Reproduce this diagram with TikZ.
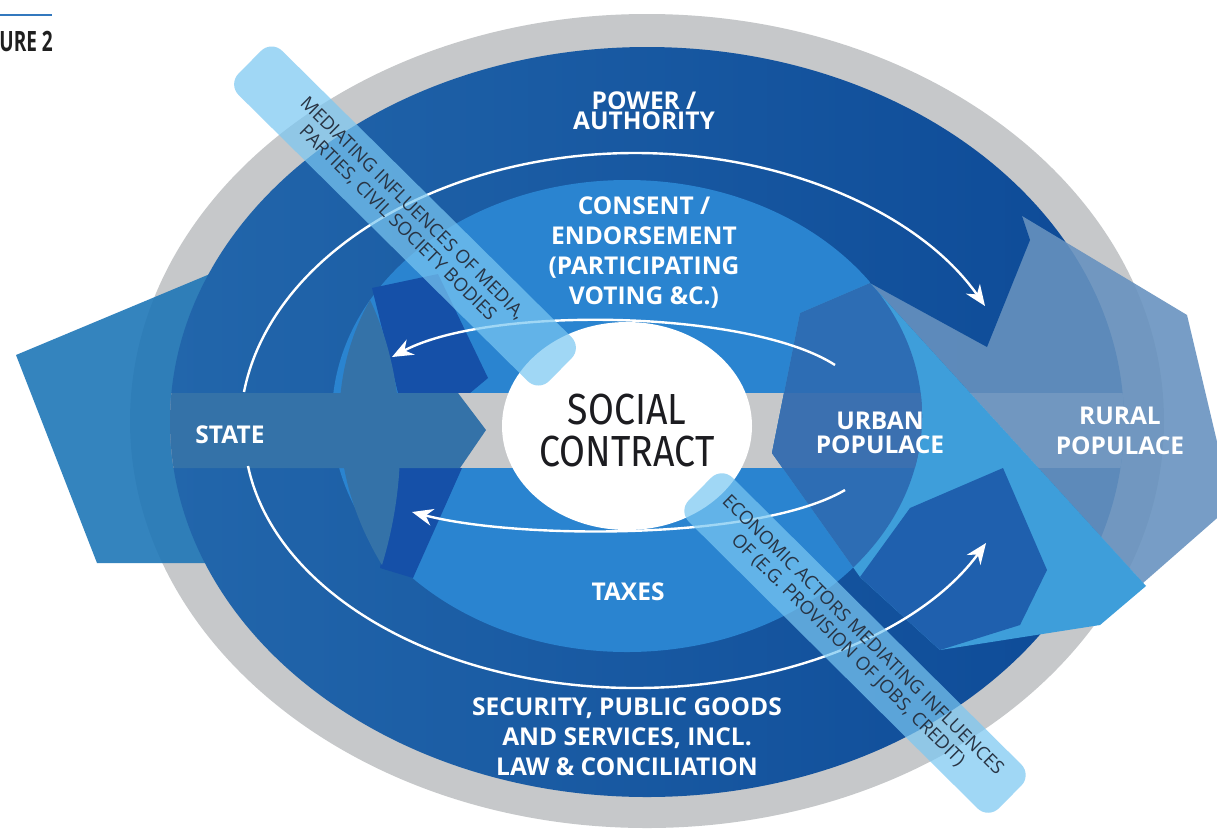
\documentclass[tikz,border=0pt]{standalone}
\usepackage{fontspec}
\setmainfont{Open Sans}
\newfontfamily\contractfont{Fira Sans}
\usetikzlibrary{arrows.meta}
\definecolor{ringgray}{RGB}{198,200,202}
\definecolor{darkL}{RGB}{34,102,171}
\definecolor{darkR}{RGB}{13,74,151}
\definecolor{midblue}{RGB}{42,132,208}
\definecolor{statehex}{RGB}{31,119,183}
\definecolor{stateband}{RGB}{52,114,168}
\definecolor{chevron}{RGB}{21,80,168}
\definecolor{ruralc}{RGB}{103,146,191}
\definecolor{cyanc}{RGB}{62,158,218}
\definecolor{urbanc}{RGB}{45,109,180}
\definecolor{urbanband}{RGB}{59,112,176}
\definecolor{lowhex}{RGB}{31,96,174}
\definecolor{bandc}{RGB}{122,199,242}
\definecolor{bandtext}{RGB}{40,52,68}
\definecolor{figblue}{RGB}{50,120,190}
\definecolor{contracttext}{RGB}{28,28,32}
\begin{document}
\begin{tikzpicture}[x=1pt,y=-1pt,
  lbl/.style={text=white, font=\bfseries\fontsize{24.5}{30}\selectfont, align=center, inner sep=0pt},
  flow/.style={draw=white, line width=2.4pt, -{Stealth[length=21pt,width=17pt]}},
  medband/.style={fill=bandc, fill opacity=0.71, text opacity=1, text=bandtext, rounded corners=15pt, align=center, font=\fontsize{18.5}{21}\selectfont, inner sep=0pt, minimum width=437pt, minimum height=62pt}
]
\fill[white] (0,0) rectangle (1217,831);
\useasboundingbox (0,0) rectangle (1217,831);

% figure tag
\coordinate (tagA) at (0,15);
\coordinate (tagB) at (52,15);
\draw[figblue, line width=2.2pt] (tagA) -- (tagB);
\node[anchor=east, inner sep=0pt, text=black!88, font=\bfseries\fontsize{28}{28}\selectfont] (tag) at (53,41) {\scalebox{0.68}[1]{URE 2}};

% outer gray ellipse
\fill[ringgray] (647,421) ellipse [x radius=517pt, y radius=407pt];
% state hexagon (outer part)
\fill[statehex, fill opacity=0.9] (16,355) -- (265,251) -- (320,300) -- (320,563) -- (97,563) -- cycle;
% dark ring
\shade[left color=darkL, right color=darkR] (647,422) ellipse [x radius=477pt, y radius=375pt];
% medium ellipse
\fill[midblue] (627,416) ellipse [x radius=295pt, y radius=236pt];
% dark chevrons near state
\fill[chevron] (372,288) -- (438,274) -- (488,378) -- (470,393) -- (398,393) -- cycle;
\fill[chevron] (398,468) -- (462,468) -- (413,578) -- (380,568) -- cycle;
% horizontal band
\begin{scope}
  \clip (647,422) ellipse [x radius=477pt, y radius=375pt];
  \fill[ringgray] (160,393) rectangle (1130,468);
  \fill[stateband] (160,393) -- (458,393) -- (486,430) -- (460,468) -- (160,468) -- cycle;
\end{scope}
% lens
\fill[stateband] (370,300) .. controls (325,380) and (330,480) .. (382,565) .. controls (408,480) and (408,380) .. (370,300) -- cycle;

% right side: rural, urban, arrow tips
\fill[ruralc, fill opacity=0.89] (1022,216) -- (1187,315) -- (1232,505) -- (1143,583) -- (870,283) -- cycle;
\fill[cyanc] (800,313) -- (870,283) -- (1146,586) -- (1100,625) -- (940,650) -- (860,577) -- (772,453) -- cycle;
\begin{scope}
  \clip (627,416) ellipse [x radius=295pt, y radius=236pt];
  \clip (800,313) -- (870,283) -- (1146,586) -- (1100,625) -- (940,650) -- (860,577) -- (772,453) -- cycle;
  \fill[urbanc] (700,250) rectangle (1000,650);
  \fill[urbanband] (700,393) rectangle (1000,468);
\end{scope}
\begin{scope}
  \clip (870,283) -- (987,347) -- (1030,240) -- (1022,216) -- (900,150) -- (870,150) -- cycle;
  \shade[left color=darkL, right color=darkR] (647,422) ellipse [x radius=477pt, y radius=375pt];
\end{scope}
\fill[lowhex] (860,577) -- (910,508) -- (1003,468) -- (1047,570) -- (1020,625) -- (940,650) -- cycle;

% white centre
\fill[white] (627,426) ellipse [x radius=125pt, y radius=104pt];

% flows
\coordinate (uo1) at (244,392); \coordinate (uo2) at (635,153); \coordinate (uo3) at (985,306);
\draw[flow] (uo1) .. controls (271,255) and (440,153) .. (uo2) .. controls (783,153) and (919,212) .. (uo3);
\coordinate (lo1) at (248,466); \coordinate (lo2) at (635,688); \coordinate (lo3) at (986,543);
\draw[flow] (lo1) .. controls (275,593) and (440,688) .. (lo2) .. controls (784,688) and (921,632) .. (lo3);
\coordinate (ui1) at (835,365); \coordinate (ui2) at (392,357);
\draw[flow] (ui1) .. controls (750,310) and (490,305) .. (ui2);
\coordinate (li1) at (845,490); \coordinate (li2) at (412,512);
\draw[flow] (li1) .. controls (760,540) and (520,540) .. (li2);

% mediating bands
\node[medband, rotate=-44.7] (media) at (405,216) {MEDIATING INFLUENCES OF MEDIA,\\PARTIES, CIVIL SOCIETY BODIES};
\node[medband, rotate=-44.8] (econ) at (855,643) {ECONOMIC ACTORS MEDIATING INFLUENCES\\OF (E.G. PROVISION OF JOBS, CREDIT)};

% labels
\node[lbl, font=\bfseries\fontsize{24.5}{20}\selectfont] (power) at (644,111) {POWER /\\AUTHORITY};
\node[lbl] (consent) at (644,253) {CONSENT /\\ENDORSEMENT\\(PARTICIPATING\\VOTING \&C.)};
\node[lbl] (state) at (230,435) {STATE};
\node[lbl, font=\bfseries\fontsize{24.5}{24}\selectfont] (urban) at (880,433) {URBAN\\POPULACE};
\node[lbl, font=\bfseries\fontsize{24.5}{30}\selectfont] (rural) at (1120,431) {RURAL\\POPULACE};
\node[lbl] (taxes) at (628,592) {TAXES};
\node[lbl] (security) at (627,737) {SECURITY, PUBLIC GOODS\\AND SERVICES, INCL.\\LAW \& CONCILIATION};
\node[inner sep=0pt, align=center, text=contracttext, font=\contractfont\fontsize{43.5}{42}\selectfont] (social) at (627,431) {\scalebox{0.86}[1]{SOCIAL}\\\scalebox{0.86}[1]{CONTRACT}};
\end{tikzpicture}
\end{document}
